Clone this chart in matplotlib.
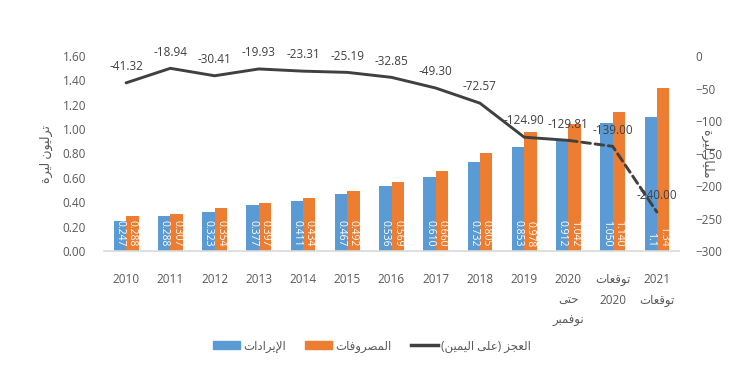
import matplotlib
matplotlib.use("Agg")
import matplotlib.pyplot as plt
from matplotlib.patches import Patch
from matplotlib.lines import Line2D
import numpy as np

plt.rcParams['font.family'] = ['Open Sans', 'DejaVu Sans']

# Arabic text already in shaped presentation forms, visual (left-to-right) order
categories = ["2010", "2011", "2012", "2013", "2014", "2015", "2016", "2017",
              "2018", "2019",
              "2020\n\ufef0\ufe98\ufea3\n\ufeae\ufe92\ufee4\ufed3\ufeee\ufee7",
              "\ufe95\ufe8e\ufecc\ufed7\ufeee\ufe97\n2020",
              "2021\n\ufe95\ufe8e\ufecc\ufed7\ufeee\ufe97"]
revenues = [0.247, 0.288, 0.323, 0.377, 0.411, 0.467, 0.536, 0.610, 0.732,
            0.853, 0.912, 1.050, 1.1]
expenses = [0.288, 0.307, 0.354, 0.397, 0.434, 0.492, 0.569, 0.660, 0.805,
            0.978, 1.042, 1.140, 1.34]
revenue_labels = ["0.247", "0.288", "0.323", "0.377", "0.411", "0.467", "0.536",
                  "0.610", "0.732", "0.853", "0.912", "1.050", "1.1"]
expense_labels = ["0.288", "0.307", "0.354", "0.397", "0.434", "0.492", "0.569",
                  "0.660", "0.805", "0.978", "1.042", "1.140", "1.34"]
deficit = [-41.32, -18.94, -30.41, -19.93, -23.31, -25.19, -32.85, -49.30,
           -72.57, -124.90, -129.81, -139.00, -240.00]
dash_from = 10  # forecast part of the deficit line is dashed

left_title = "\ufe93\ufeae\ufef4\ufedf \ufee5\ufeee\ufef4\ufedf\ufeae\ufe97"
right_title = "\ufe93\ufeae\ufef4\ufedf \ufead\ufe8e\ufef4\ufee0\ufee3"
leg_rev = "\ufe95\ufe8d\ufea9\ufe8d\ufeae\ufef3\ufef9\ufe8d"
leg_exp = "\ufe95\ufe8e\ufed3\ufeed\ufeae\ufebc\ufee4\ufedf\ufe8d"
leg_def = "(\ufee6\ufef4\ufee4\ufef4\ufedf\ufe8d \ufef0\ufee0\ufecb) \ufeb0\ufea0\ufecc\ufedf\ufe8d"

blue = "#5B9BD5"
orange = "#ED7D31"
dark = "#404040"
grey = "#595959"

fig = plt.figure(figsize=(7.56, 3.76), dpi=100)
ax = fig.add_axes([104 / 756, 125 / 376, 575 / 756, 195 / 376])
ax2 = ax.twinx()

x = np.arange(len(categories))
w = 0.28
ax.bar(x - w / 2, revenues, w, color=blue, zorder=2)
ax.bar(x + w / 2, expenses, w, color=orange, zorder=2)
for i in range(len(x)):
    ax.annotate(revenue_labels[i], (x[i] - w / 2, 0), xytext=(0, 3),
                textcoords='offset points', rotation=270, ha='center',
                va='bottom', color='white', fontsize=7.5)
    ax.annotate(expense_labels[i], (x[i] + w / 2, 0), xytext=(0, 3),
                textcoords='offset points', rotation=270, ha='center',
                va='bottom', color='white', fontsize=7.5)

ax2.plot(x[:dash_from + 1], deficit[:dash_from + 1], color=dark, lw=2.1,
         solid_capstyle='round', solid_joinstyle='round')
ax2.plot(x[dash_from:], deficit[dash_from:], color=dark, lw=2.1,
         linestyle=(0, (3, 1.6)), dash_capstyle='round')
for i, v in enumerate(deficit):
    ax2.annotate(f"{v:.2f}", (x[i], v), xytext=(0, 7), textcoords='offset points',
                 ha='center', va='bottom', color=dark, fontsize=8.5)

ax.set_xlim(-0.5, len(x) - 0.5)
ax.set_ylim(0, 1.6)
ax.set_yticks(np.arange(0, 1.61, 0.2))
ax.set_yticklabels([f"{t:.2f}" for t in np.arange(0, 1.61, 0.2)])
ax2.set_ylim(-300, 0)
ax2.set_yticks(np.arange(-300, 1, 50))

ax.set_xticks(x)
ax.set_xticklabels(categories)
for lbl in ax.get_xticklabels():
    lbl.set_linespacing(1.75)

for a in (ax, ax2):
    for s in a.spines.values():
        s.set_visible(False)
    a.tick_params(length=0, colors=grey, labelsize=8.5)
ax.spines['bottom'].set_visible(True)
ax.spines['bottom'].set_color("#D9D9D9")
ax.spines['bottom'].set_linewidth(1.2)
ax.tick_params(axis='y', pad=13)
ax.tick_params(axis='x', pad=16)
ax2.tick_params(axis='y', pad=12)

ax.set_ylabel(left_title, color=grey, fontsize=9)
ax.yaxis.set_label_coords(-0.089, 0.5)
ax2.set_ylabel(right_title, color=grey, fontsize=9, rotation=270, va='center')
ax2.yaxis.set_label_coords(1.05, 0.5)

handles = [Patch(color=blue), Patch(color=orange), Line2D([], [], color=dark, lw=2.5)]
fig.legend(handles, [leg_rev, leg_exp, leg_def], loc='center',
           bbox_to_anchor=(372 / 756, 1 - 346 / 376), ncol=3, frameon=False,
           fontsize=8.5, labelcolor=grey, handlelength=2.3, handleheight=0.7,
           handletextpad=0.3, columnspacing=1.6)

fig.savefig("out.png", dpi=100)
